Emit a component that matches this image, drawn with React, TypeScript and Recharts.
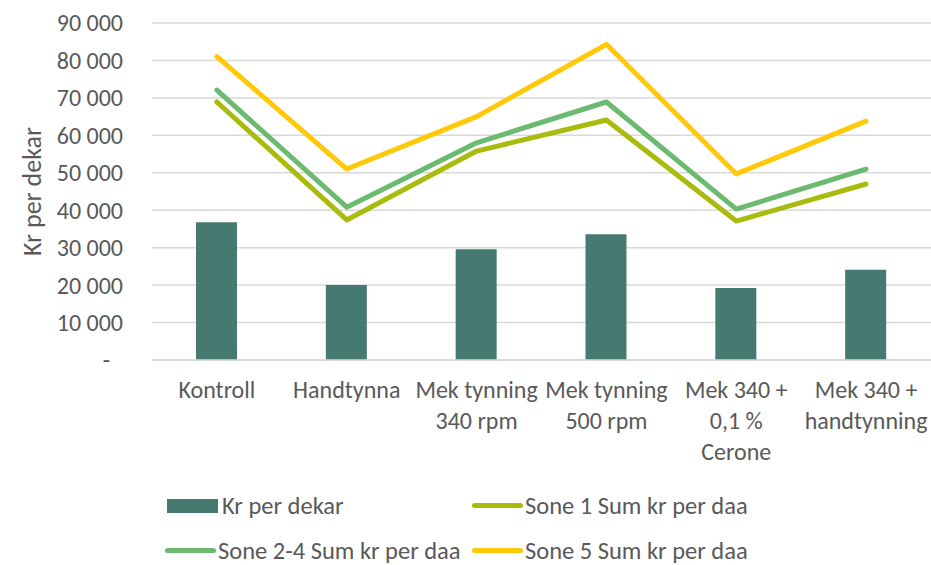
import { ComposedChart, Bar, Line, XAxis, YAxis, CartesianGrid, Label } from "recharts";

const categories = [
  "Kontroll",
  "Handtynna",
  "Mek tynning 340 rpm",
  "Mek tynning 500 rpm",
  "Mek 340 + 0,1 % Cerone",
  "Mek 340 + handtynning",
];

// wrapped tick text, one entry per category
const categoryLines = [
  ["Kontroll"],
  ["Handtynna"],
  ["Mek tynning", "340 rpm"],
  ["Mek tynning", "500 rpm"],
  ["Mek 340 +", "0,1 %", "Cerone"],
  ["Mek 340 +", "handtynning"],
];

const krPerDekar = [36800, 20000, 29600, 33600, 19200, 24100];
const sone1 = [68900, 37400, 55800, 64100, 37100, 47000];
const sone24 = [72100, 40800, 58000, 68900, 40300, 51000];
const sone5 = [81000, 51000, 65000, 84300, 49700, 63800];

const yTicks = [0, 10000, 20000, 30000, 40000, 50000, 60000, 70000, 80000, 90000];

const COLORS = {
  bar: "#467A70",
  sone1: "#A9BB0D",
  sone24: "#6CB970",
  sone5: "#FFC907",
  text: "#595959",
  grid: "#D9D9D9",
};

const FONT = "Carlito, Lato, sans-serif";

const data = categories.map((c, i) => ({
  name: c,
  kr: krPerDekar[i],
  s1: sone1[i],
  s24: sone24[i],
  s5: sone5[i],
}));

const fmt = (v: number) =>
  v === 0 ? "-" : `${Math.floor(v / 1000)}\u00a0${String(v % 1000).padStart(3, "0")}`;

function YTick({ x, y, payload }: any) {
  const v = payload.value as number;
  return (
    <text
      x={v === 0 ? x - 13 : x}
      y={y}
      dy="0.35em"
      textAnchor="end"
      fill={COLORS.text}
      fontSize={24}
      fontFamily={FONT}
    >
      {fmt(v)}
    </text>
  );
}

function XTick({ x, y, index }: any) {
  const lines = categoryLines[index] ?? [];
  return (
    <text x={x} y={y + 30} textAnchor="middle" fill={COLORS.text} fontSize={24} fontFamily={FONT}>
      {lines.map((l, i) => (
        <tspan key={i} x={x} dy={i === 0 ? "0.35em" : 31}>
          {l}
        </tspan>
      ))}
    </text>
  );
}

const legendItems = [
  { label: "Kr per dekar", color: COLORS.bar, bar: true },
  { label: "Sone 1 Sum kr per daa", color: COLORS.sone1, bar: false },
  { label: "Sone 2-4 Sum kr per daa", color: COLORS.sone24, bar: false },
  { label: "Sone 5 Sum kr per daa", color: COLORS.sone5, bar: false },
];

function ChartLegend() {
  return (
    <div
      style={{
        position: "absolute",
        left: 165,
        top: 490,
        display: "grid",
        gridTemplateColumns: "307px 300px",
        rowGap: 14,
        fontFamily: FONT,
        fontSize: 24.5,
        color: COLORS.text,
      }}
    >
      {legendItems.map((it) => (
        <div key={it.label} style={{ display: "flex", alignItems: "center", height: 31 }}>
          {it.bar ? (
            <span style={{ width: 51, height: 14, background: it.color, marginLeft: 2, marginRight: 4 }} />
          ) : (
            <span
              style={{ width: 51, height: 5, borderRadius: 3, background: it.color, marginRight: 2 }}
            />
          )}
          <span>{it.label}</span>
        </div>
      ))}
    </div>
  );
}

export default function App() {
  return (
    <div
      style={{
        position: "absolute",
        left: 0,
        top: 0,
        width: 931,
        height: 565,
        background: "#fff",
        overflow: "hidden",
      }}
    >
      <ComposedChart
        width={931}
        height={565}
        data={data}
        margin={{ top: 23, right: 0, left: 0, bottom: 95 }}
        barCategoryGap={45}
      >
        <CartesianGrid vertical={false} stroke={COLORS.grid} strokeWidth={1.5} />
        <XAxis
          dataKey="name"
          interval={0}
          height={110}
          axisLine={{ stroke: COLORS.grid, strokeWidth: 1.5 }}
          tickLine={false}
          tickSize={0}
          tickMargin={0}
          tick={<XTick />}
        />
        <YAxis
          width={152}
          domain={[0, 90000]}
          ticks={yTicks}
          axisLine={false}
          tickLine={false}
          tickSize={0}
          tickMargin={29}
          tick={<YTick />}
        >
          <Label
            content={({ viewBox }: any) => {
              const cx = viewBox.x + 32;
              const cy = viewBox.y + viewBox.height / 2;
              return (
                <text
                  x={cx}
                  y={cy}
                  transform={`rotate(-90, ${cx}, ${cy})`}
                  textAnchor="middle"
                  dy="0.35em"
                  fill={COLORS.text}
                  fontSize={26}
                  fontFamily={FONT}
                >
                  Kr per dekar
                </text>
              );
            }}
          />
        </YAxis>
        <Bar dataKey="kr" fill={COLORS.bar} barSize={41} isAnimationActive={false} />
        <Line
          dataKey="s1"
          stroke={COLORS.sone1}
          strokeWidth={5}
          strokeLinecap="round"
          strokeLinejoin="round"
          dot={false}
          isAnimationActive={false}
        />
        <Line
          dataKey="s24"
          stroke={COLORS.sone24}
          strokeWidth={5}
          strokeLinecap="round"
          strokeLinejoin="round"
          dot={false}
          isAnimationActive={false}
        />
        <Line
          dataKey="s5"
          stroke={COLORS.sone5}
          strokeWidth={5}
          strokeLinecap="round"
          strokeLinejoin="round"
          dot={false}
          isAnimationActive={false}
        />
      </ComposedChart>
      <ChartLegend />
    </div>
  );
}
